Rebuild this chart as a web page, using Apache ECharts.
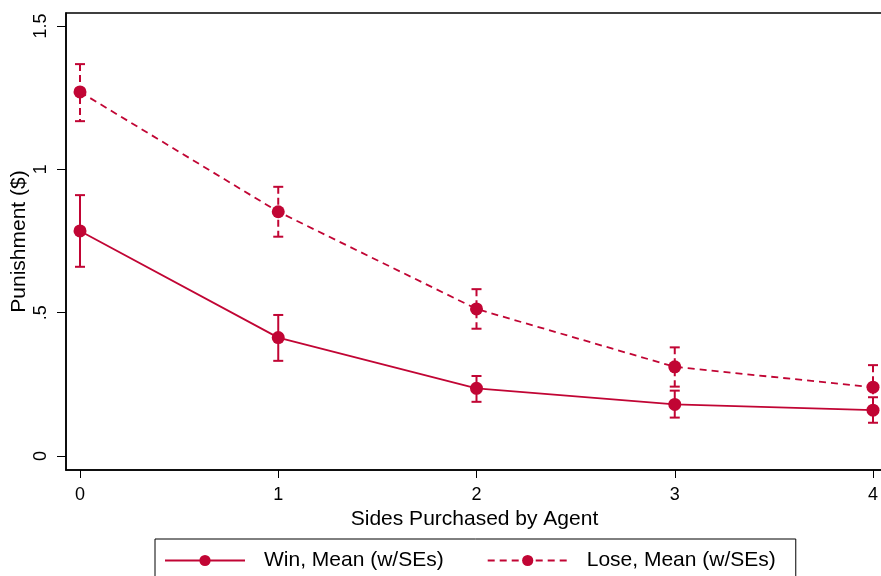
<!DOCTYPE html>
<html>
<head>
<meta charset="utf-8">
<script src="https://cdn.jsdelivr.net/npm/echarts@6/dist/echarts.min.js"></script>
<style>
  html, body { margin: 0; padding: 0; background: #fff; }
  #chart { width: 881px; height: 576px; }
</style>
</head>
<body>
<div id="chart"></div>
<script>
// Sides purchased by agent (x positions)
const sides = [0, 1, 2, 3, 4];

// Win condition: mean punishment and +/- 1 SE bounds
const winMean  = [0.785, 0.413, 0.236, 0.180, 0.160];
const winUpper = [0.910, 0.492, 0.279, 0.228, 0.205];
const winLower = [0.660, 0.332, 0.189, 0.134, 0.116];

// Lose condition: mean punishment and +/- 1 SE bounds
const loseMean  = [1.270, 0.852, 0.513, 0.311, 0.240];
const loseUpper = [1.367, 0.939, 0.582, 0.379, 0.317];
const loseLower = [1.168, 0.765, 0.444, 0.242, 0.164];

// Axis ticks
const xTicks = [0, 1, 2, 3, 4];
const yTicks = [0, 0.5, 1, 1.5];
const yTickLabels = ['0', '.5', '1', '1.5'];

const seriesNames = ['Win, Mean (w/SEs)', 'Lose, Mean (w/SEs)'];

const RED = '#C10534';
const FONT = '"Liberation Sans", Arial, Helvetica, sans-serif';

function pairs(xs, ys) { return xs.map((x, i) => [x, ys[i]]); }

function errorBars(name, lower, upper, dashed) {
  return {
    type: 'custom',
    name: name + ' SE',
    z: 2,
    data: sides.map((x, i) => [x, lower[i], upper[i]]),
    renderItem: function (params, api) {
      const lo = api.coord([api.value(0), api.value(1)]);
      const hi = api.coord([api.value(0), api.value(2)]);
      const hw = 5;
      const style = { stroke: RED, lineWidth: 2, fill: null };
      const stemStyle = Object.assign({}, style, dashed ? { lineDash: [7, 4] } : {});
      return {
        type: 'group',
        children: [
          { type: 'line', shape: { x1: hi[0], y1: hi[1], x2: lo[0], y2: lo[1] }, style: stemStyle },
          { type: 'line', shape: { x1: hi[0] - hw, y1: hi[1], x2: hi[0] + hw, y2: hi[1] }, style: style },
          { type: 'line', shape: { x1: lo[0] - hw, y1: lo[1], x2: lo[0] + hw, y2: lo[1] }, style: style }
        ]
      };
    }
  };
}

const chart = echarts.init(document.getElementById('chart'), null, { renderer: 'canvas' });

chart.setOption({
  backgroundColor: '#fff',
  animation: false,
  textStyle: { fontFamily: FONT },
  grid: {
    left: 66, top: 13, bottom: 106, right: -2,
    containLabel: false,
    outerBoundsMode: 'none',
    show: true, borderColor: '#000', borderWidth: 1.5, backgroundColor: 'transparent'
  },
  xAxis: {
    type: 'value',
    min: -0.0706, max: 4.0504,
    name: 'Sides Purchased by Agent',
    nameLocation: 'middle',
    nameGap: 39,
    nameMoveOverlap: false,
    nameTextStyle: { fontSize: 21, color: '#000', fontFamily: FONT },
    axisLine: { show: true, onZero: false, lineStyle: { color: '#000', width: 1.5 } },
    axisTick: { show: true, length: 8, customValues: xTicks, lineStyle: { color: '#000', width: 1 } },
    axisLabel: {
      customValues: xTicks, margin: 16, fontSize: 18, color: '#000', fontFamily: FONT,
      formatter: v => String(v)
    },
    splitLine: { show: false }
  },
  yAxis: {
    type: 'value',
    min: -0.0488, max: 1.5453,
    name: 'Punishment ($)',
    nameLocation: 'middle',
    nameGap: 36,
    nameRotate: 90,
    nameMoveOverlap: false,
    nameTextStyle: { fontSize: 21, color: '#000', fontFamily: FONT },
    axisLine: { show: true, onZero: false, lineStyle: { color: '#000', width: 1.5 } },
    axisTick: { show: true, length: 9, customValues: yTicks, lineStyle: { color: '#000', width: 1 } },
    axisLabel: {
      customValues: yTicks, margin: 16, fontSize: 18, color: '#000', fontFamily: FONT, rotate: 90,
      formatter: v => yTickLabels[yTicks.indexOf(v)] ?? String(v)
    },
    splitLine: { show: false }
  },
  legend: {
    data: seriesNames,
    left: 155, top: 539,
    orient: 'horizontal',
    itemWidth: 80, itemHeight: 14, itemGap: 43,
    padding: [11, 20, 20, 9],
    borderColor: '#000', borderWidth: 1,
    textStyle: { fontSize: 21, color: '#000', fontFamily: FONT, padding: [0, 0, 0, 14] }
  },
  series: [
    errorBars(seriesNames[0], winLower, winUpper, false),
    errorBars(seriesNames[1], loseLower, loseUpper, true),
    {
      type: 'line', name: seriesNames[0], z: 3,
      data: pairs(sides, winMean),
      symbol: 'circle', symbolSize: 13,
      itemStyle: { color: RED },
      lineStyle: { color: RED, width: 1.8, type: 'solid' }
    },
    {
      type: 'line', name: seriesNames[1], z: 3,
      data: pairs(sides, loseMean),
      symbol: 'circle', symbolSize: 13,
      itemStyle: { color: RED },
      lineStyle: { color: RED, width: 1.8, type: [7, 5] }
    }
  ]
});
</script>
</body>
</html>
